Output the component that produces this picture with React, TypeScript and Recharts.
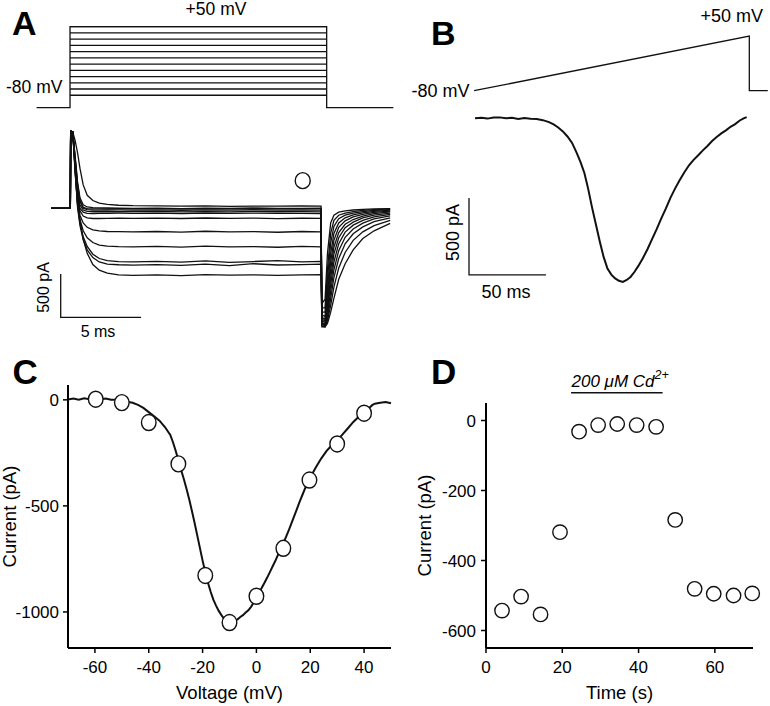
import React from 'react'
import { ComposedChart, Line, Scatter, XAxis, YAxis, ReferenceLine, Label } from 'recharts'

const FONT = '"Liberation Sans", Arial, Helvetica, sans-serif'
const INK = '#111'

// ---------- A: step protocol (schematic, mV) and current traces (pA vs ms)
const aProtoT = [-1.5, 0.58, 0.58, 16.55, 16.55, 20.7]
const aProtoV = [-80, -80, 50, 50, -80, -80]
const aStepLevels = [-60, -50, -40, -30, -20, -10, 0, 10, 20, 30, 40, 50]
const aStepSpan = [0.58, 16.55]

const aTimes = [
  -0.6, 0.6, 0.62, 0.75, 0.9, 1.05, 1.2, 1.4, 1.65, 2.0, 2.4, 2.9, 3.6, 4.5, 6, 7.5, 9, 10.5, 12, 13.5, 15,
  16.2, 16.25, 16.45, 16.6, 16.8, 17.0, 17.3, 17.7, 18.2, 18.8, 19.5, 20.5,
]
const aCurrents = [
  [0, 0, 890, 880, 780, 640, 460, 270, 150, 90, 60, 45, 35, 30, 28, 24, 27, 22, 26, 25, 28, 24, -1370, -1370, -1330, -1200, -1040, -820, -640, -480, -350, -260, -175],
  [0, 0, 890, 880, 600, 300, 120, 40, 15, 8, 5, 3, 2, 0, 2, -3, 1, -2, 3, 0, -1, 2, -1100, -1050, -520, -170, -80, -45, -30, -20, -12, -8, -3],
  [0, 0, 890, 880, 560, 260, 80, 10, -5, -8, -8, -6, -5, -6, -4, -7, -3, -6, -5, -8, -4, -5, -1150, -1150, -700, -290, -140, -80, -55, -38, -25, -15, -8],
  [0, 0, 890, 880, 580, 280, 90, 0, -15, -20, -22, -20, -19, -21, -18, -23, -19, -22, -17, -21, -20, -22, -1360, -1370, -1300, -1120, -910, -690, -510, -370, -272, -200, -140],
  [0, 0, 890, 880, 540, 220, 40, -20, -35, -40, -40, -38, -40, -39, -37, -42, -38, -41, -36, -40, -39, -42, -1340, -1360, -1270, -1040, -800, -580, -410, -295, -215, -155, -112],
  [0, 0, 890, 880, 520, 180, 0, -45, -58, -62, -60, -58, -57, -59, -56, -61, -57, -60, -55, -59, -58, -62, -1200, -1200, -820, -400, -210, -120, -80, -55, -38, -25, -15],
  [0, 0, 890, 880, 500, 150, -30, -90, -110, -118, -118, -116, -115, -117, -113, -118, -112, -116, -114, -119, -115, -117, -1330, -1350, -1230, -960, -710, -490, -335, -240, -172, -122, -88],
  [0, 0, 890, 880, 480, 100, -80, -170, -220, -250, -262, -268, -270, -272, -268, -275, -265, -272, -270, -277, -268, -272, -1230, -1250, -920, -520, -290, -170, -110, -75, -52, -35, -22],
  [0, 0, 890, 880, 460, 60, -130, -260, -340, -395, -425, -438, -443, -445, -440, -448, -438, -445, -442, -450, -440, -446, -1320, -1340, -1180, -880, -620, -410, -275, -195, -140, -98, -70],
  [0, 0, 890, 880, 440, 30, -170, -330, -440, -530, -580, -605, -615, -620, -612, -622, -608, -625, -615, -605, -620, -614, -1300, -1320, -1130, -800, -530, -340, -225, -160, -112, -78, -55],
  [0, 0, 890, 880, 430, 10, -200, -360, -480, -570, -620, -645, -652, -657, -650, -660, -645, -662, -640, -655, -650, -645, -1260, -1280, -1000, -620, -370, -220, -145, -100, -70, -48, -32],
  [0, 0, 890, 880, 400, 60, -150, -360, -520, -650, -715, -750, -770, -775, -770, -778, -765, -772, -768, -775, -770, -766, -1280, -1300, -1070, -710, -450, -280, -185, -130, -90, -62, -42],
]
const aMarker = [{ t: 15.06, i: 319 }]
const aBarT = [0, 0, 5]
const aBarI = [-759, -1259, -1259]

// ---------- B: ramp protocol and ramp current
const bRampT = [3.3, 182.2, 182.2, 194.2]
const bRampV = [-80, 50, -80, -80]
const bTimes = [
  3.9, 8, 12, 16, 20, 24, 28, 32, 36, 40, 44, 48, 52, 55, 58, 61, 64, 67, 70, 72.5, 75, 77.5, 80, 82.5, 85, 87.5,
  90, 92.5, 95, 97.5, 100, 102.5, 105, 107.5, 110, 113, 116, 119, 122, 125, 128, 131, 134, 137, 140, 143, 146,
  149, 152, 155, 158, 161, 164, 167, 170, 173, 176, 178.5, 180.5,
]
const bCurrent = [
  0, 4, -2, 5, 6, 1, 3, -4, 2, -3, -5, -12, -25, -40, -60, -85, -118, -160, -225, -285, -355, -460, -580, -690,
  -800, -900, -975, -1015, -1040, -1055, -1062, -1050, -1030, -998, -960, -909, -850, -785, -720, -650, -585,
  -515, -455, -400, -350, -305, -270, -240, -208, -180, -148, -122, -98, -78, -55, -38, -14, 0, 8,
]
const bBarT = [0, 0, 50]
const bBarI = [-517, -1017, -1017]

// ---------- C: ramp I-V and step I-V
const cVolt = [
  -70, -68, -66, -64, -62, -60, -58, -56, -54, -52, -50, -48, -46, -44, -42, -40, -38, -36, -34, -32,
  -31, -30, -29, -28, -27, -26, -25, -24, -23, -22, -21, -20, -19, -18, -17, -16, -15, -14, -13, -12, -11,
  -10, -9, -8, -7, -6, -5, -4, -3, -2, -1, 0, 1, 2, 3, 4, 5, 6, 7, 8, 9, 10, 11, 12, 13, 14, 15, 16, 17,
  18, 19, 20, 22, 24, 26, 28, 30, 32, 34, 36, 38, 40, 42, 43, 44, 46, 48, 50,
]
const cRampI = [
  2, 6, 1, 7, 3, 8, 2, 6, 1, 0, -5, -9, -14, -24, -38, -58, -78, -98, -128, -165,
  -200, -240, -285, -330, -372, -418, -468, -522, -578, -638, -698, -758, -812, -862, -905, -942, -970,
  -995, -1015, -1032, -1044, -1052, -1050, -1042, -1035, -1024, -1015, -1003, -992, -976, -955, -932,
  -908, -886, -862, -838, -812, -786, -760, -731, -703, -676, -646, -616, -582, -549, -516, -482, -451,
  -420, -392, -366, -320, -278, -242, -214, -192, -163, -134, -104, -80, -58, -37, -25, -18, -14, -10, -16,
]
const cStepV = [-59.7, -50, -40, -29, -19, -10, 0, 10, 19.7, 30, 40]
const cStepI = [3, -13, -107, -302, -828, -1050, -926, -700, -378, -208, -63]

// ---------- D: time course, Cd2+ block
const dTime = [4.2, 9.2, 14.3, 19.4, 24.4, 29.4, 34.4, 39.5, 44.6, 49.6, 54.7, 59.7, 64.9, 69.8]
const dCurrent = [-543, -503, -554, -319, -32, -13, -10, -13, -18, -284, -481, -495, -500, -494]
const dCdSpan = [22.3, 46.3]
const dCdBarLevel = 79

const zip = (xs: number[], ys: number[], kx: string, ky: string) =>
  xs.map((x, k) => ({ [kx]: x, [ky]: ys[k] }))

const openCircle = (rx: number, ry: number) => (p: any) => (
  <ellipse cx={p.cx} cy={p.cy} rx={rx} ry={ry} fill="#fff" stroke={INK} strokeWidth={1.4} />
)

const axisLine = { stroke: '#000', strokeWidth: 2 }
const tickLine = { stroke: '#000', strokeWidth: 1.5 }
const tickStyle = { fill: '#000', fontSize: 17, fontFamily: FONT }
const titleStyle = { fill: '#000', fontSize: 18.5, fontFamily: FONT }

const PanelA = () => {
  const proto = zip(aProtoT, aProtoV, 't', 'v')
  return (
    <ComposedChart width={400} height={340} margin={{ top: 0, right: 0, bottom: 0, left: 0 }}>
      <XAxis type="number" dataKey="t" domain={[-3.777, 21.113]} hide />
      <YAxis yAxisId="v" type="number" domain={[-452.9, 92.9]} hide />
      <YAxis yAxisId="i" type="number" domain={[-1521, 2405]} hide />
      <Line yAxisId="v" data={proto} dataKey="v" type="linear" stroke={INK} strokeWidth={1.3} dot={false} activeDot={false} isAnimationActive={false} />
      {aStepLevels.map((lv) => (
        <Line
          key={`step-${lv}`}
          yAxisId="v"
          data={aStepSpan.map((t) => ({ t, v: lv }))}
          dataKey="v"
          type="linear"
          stroke={INK}
          strokeWidth={1.3}
          dot={false}
          activeDot={false}
          isAnimationActive={false}
        />
      ))}
      {aCurrents.map((vals, n) => (
        <Line
          key={`trace-${n}`}
          yAxisId="i"
          data={zip(aTimes, vals, 't', 'i')}
          dataKey="i"
          type="linear"
          stroke={INK}
          strokeWidth={1.3}
          dot={false}
          activeDot={false}
          isAnimationActive={false}
        />
      ))}
      <Line yAxisId="i" data={zip(aBarT, aBarI, 't', 'i')} dataKey="i" type="linear" stroke={INK} strokeWidth={1.3} dot={false} activeDot={false} isAnimationActive={false} />
      <Scatter yAxisId="i" data={aMarker} dataKey="i" shape={openCircle(7.5, 8)} isAnimationActive={false} />
    </ComposedChart>
  )
}

const PanelB = () => (
  <ComposedChart width={370} height={310} margin={{ top: 0, right: 1, bottom: 0, left: 69 }}>
    <XAxis type="number" dataKey="t" domain={[0, 195]} hide />
    <YAxis yAxisId="v" type="number" domain={[-601.2, 135.6]} hide />
    <YAxis yAxisId="i" type="number" domain={[-1244.8, 768.2]} hide />
    <Line yAxisId="v" data={zip(bRampT, bRampV, 't', 'v')} dataKey="v" type="linear" stroke={INK} strokeWidth={1.3} dot={false} activeDot={false} isAnimationActive={false} />
    <Line yAxisId="i" data={zip(bTimes, bCurrent, 't', 'i')} dataKey="i" type="linear" stroke={INK} strokeWidth={2} dot={false} activeDot={false} isAnimationActive={false} />
    <Line yAxisId="i" data={zip(bBarT, bBarI, 't', 'i')} dataKey="i" type="linear" stroke={INK} strokeWidth={1.3} dot={false} activeDot={false} isAnimationActive={false} />
  </ComposedChart>
)

const PanelC = () => (
  <ComposedChart width={400} height={356} margin={{ top: 35, right: 9, bottom: 0, left: 8 }}>
    <XAxis
      type="number"
      dataKey="v"
      domain={[-70, 50]}
      ticks={[-60, -40, -20, 0, 20, 40]}
      height={58}
      tickSize={5}
      tickMargin={8}
      axisLine={axisLine}
      tickLine={tickLine}
      tick={tickStyle}
    >
      <Label value="Voltage (mV)" position="insideBottom" offset={7} style={titleStyle} />
    </XAxis>
    <YAxis
      type="number"
      domain={[-1170, 70]}
      ticks={[-1000, -500, 0]}
      width={60}
      tickSize={5}
      tickMargin={4}
      axisLine={axisLine}
      tickLine={tickLine}
      tick={tickStyle}
    >
      <Label value="Current (pA)" angle={-90} position="insideLeft" offset={1} style={{ ...titleStyle, textAnchor: 'middle' }} />
    </YAxis>
    <Line data={zip(cVolt, cRampI, 'v', 'i')} dataKey="i" type="linear" stroke={INK} strokeWidth={2} dot={false} activeDot={false} isAnimationActive={false} />
    <Scatter data={zip(cStepV, cStepI, 'v', 'i')} dataKey="i" shape={openCircle(7.3, 8)} isAnimationActive={false} />
  </ComposedChart>
)

const PanelD = () => (
  <ComposedChart width={370} height={356} margin={{ top: 53, right: 17, bottom: 0, left: 22 }}>
    <XAxis
      type="number"
      dataKey="t"
      domain={[0, 70]}
      ticks={[0, 20, 40, 60]}
      height={58}
      tickSize={5}
      tickMargin={8}
      axisLine={axisLine}
      tickLine={tickLine}
      tick={tickStyle}
    >
      <Label value="Time (s)" position="insideBottom" offset={7} style={titleStyle} />
    </XAxis>
    <YAxis
      type="number"
      domain={[-650, 50]}
      ticks={[-600, -400, -200, 0]}
      width={64}
      tickSize={5}
      tickMargin={5}
      axisLine={axisLine}
      tickLine={tickLine}
      tick={tickStyle}
    >
      <Label value="Current (pA)" angle={-90} position="insideLeft" offset={2} style={{ ...titleStyle, textAnchor: 'middle' }} />
    </YAxis>
    <ReferenceLine
      segment={[
        { x: dCdSpan[0], y: dCdBarLevel },
        { x: dCdSpan[1], y: dCdBarLevel },
      ]}
      ifOverflow="visible"
      stroke={INK}
      strokeWidth={1.5}
    />
    <Scatter data={zip(dTime, dCurrent, 't', 'i')} dataKey="i" shape={openCircle(7.2, 7.2)} isAnimationActive={false} />
  </ComposedChart>
)

const place = (left: number, top: number): React.CSSProperties => ({ position: 'absolute', left, top })

export default function App() {
  const txt = { fontFamily: FONT, fill: '#000' }
  return (
    <div style={{ position: 'absolute', left: 0, top: 0, width: 770, height: 706, background: '#fff', overflow: 'hidden' }}>
      <div style={place(0, 0)}><PanelA /></div>
      <div style={place(400, 0)}><PanelB /></div>
      <div style={place(0, 350)}><PanelC /></div>
      <div style={place(400, 350)}><PanelD /></div>
      <svg width={770} height={706} style={{ ...place(0, 0), pointerEvents: 'none' }}>
        <g style={txt} fontWeight="bold">
          <text x={12} y={35} fontSize={34}>A</text>
          <text x={431} y={44.5} fontSize={34}>B</text>
          <text x={12.5} y={383.5} fontSize={35}>C</text>
          <text x={431} y={383.5} fontSize={35}>D</text>
        </g>
        <g style={txt}>
          <text x={216} y={14.5} fontSize={17.5} textAnchor="middle">+50 mV</text>
          <text x={6} y={93} fontSize={17.5}>-80 mV</text>
          <text x={49} y={287.5} fontSize={16} textAnchor="middle" transform="rotate(-90 49 287.5)">500 pA</text>
          <text x={98} y={336.5} fontSize={16} textAnchor="middle">5 ms</text>
          <text x={469.5} y={96.5} fontSize={18} textAnchor="end">-80 mV</text>
          <text x={731.7} y={21.5} fontSize={18} textAnchor="middle">+50 mV</text>
          <text x={459} y={232.5} fontSize={18} textAnchor="middle" transform="rotate(-90 459 232.5)">500 pA</text>
          <text x={506} y={298} fontSize={18} textAnchor="middle">50 ms</text>
          <text x={571.5} y={387} fontSize={17} fontStyle="italic">
            200 μM Cd<tspan fontSize={12.5} dy={-8}>2+</tspan>
          </text>
        </g>
      </svg>
    </div>
  )
}
